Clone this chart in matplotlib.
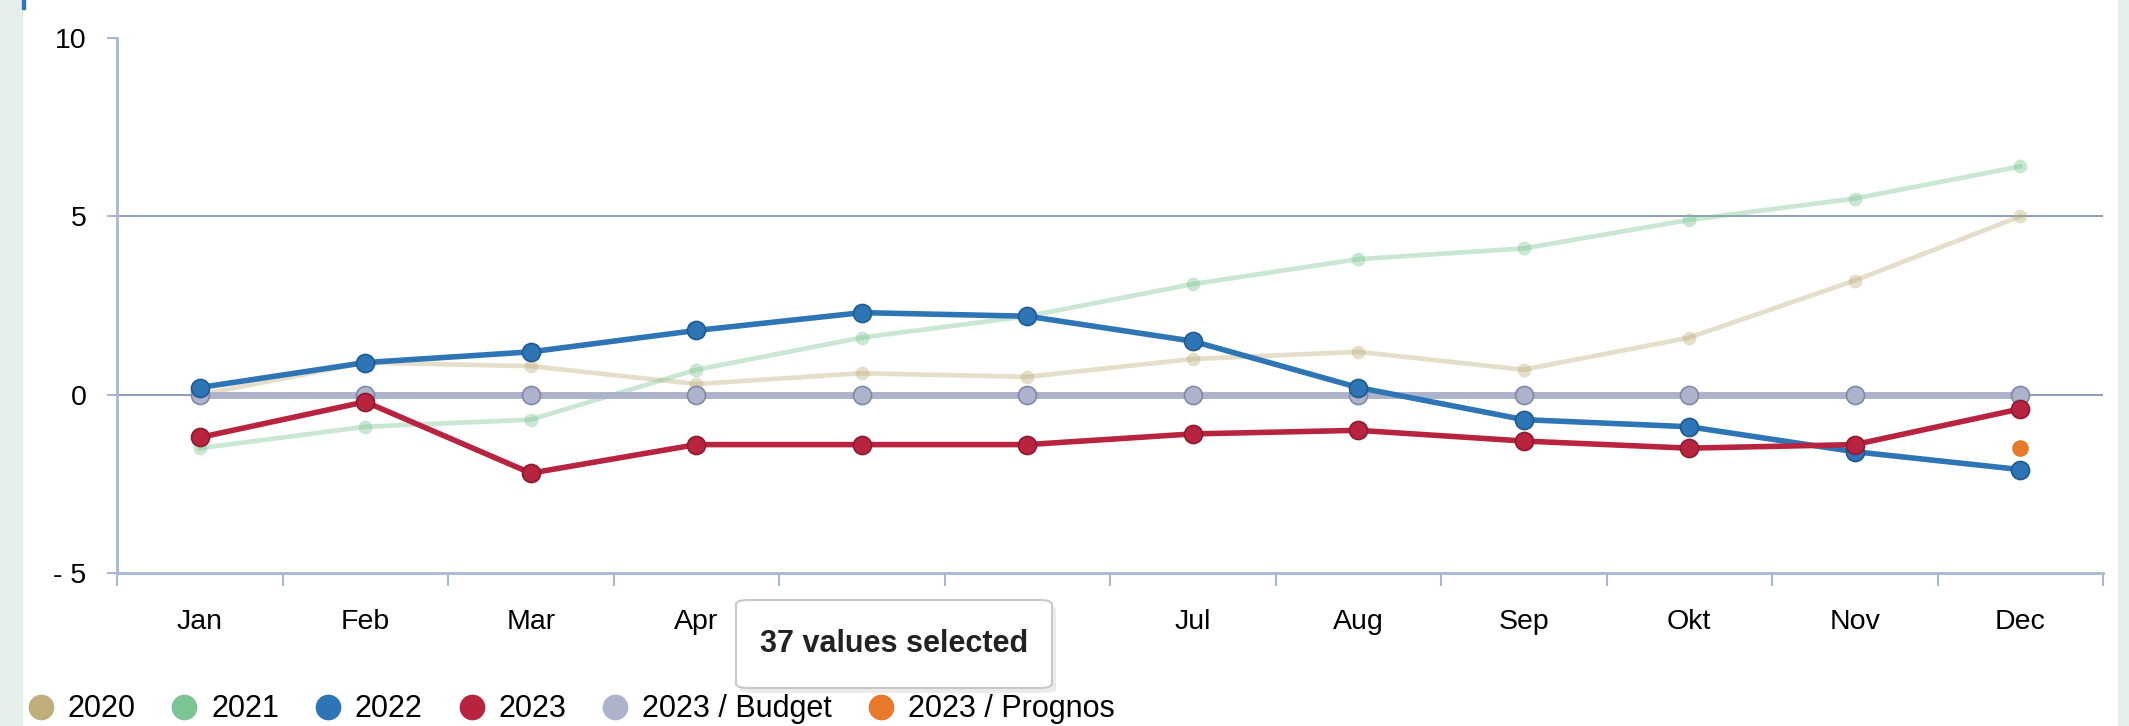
import matplotlib.pyplot as plt
from matplotlib.lines import Line2D
from matplotlib.patches import FancyBboxPatch, Rectangle

plt.rcParams['font.family'] = ['Liberation Sans', 'DejaVu Sans']

months = ['Jan', 'Feb', 'Mar', 'Apr', 'May', 'Jun',
          'Jul', 'Aug', 'Sep', 'Okt', 'Nov', 'Dec']
v2020 = [0.0, 0.9, 0.8, 0.3, 0.6, 0.5, 1.0, 1.2, 0.7, 1.6, 3.2, 5.0]
v2021 = [-1.5, -0.9, -0.7, 0.7, 1.6, 2.2, 3.1, 3.8, 4.1, 4.9, 5.5, 6.4]
v2022 = [0.2, 0.9, 1.2, 1.8, 2.3, 2.2, 1.5, 0.2, -0.7, -0.9, -1.6, -2.1]
v2023 = [-1.2, -0.2, -2.2, -1.4, -1.4, -1.4, -1.1, -1.0, -1.3, -1.5, -1.4, -0.4]
budget = [0.0] * 12
prognos_month = ['Dec']
prognos = [-1.5]
yticks = [-5, 0, 5, 10]
ytick_labels = ['- 5', '0', '5', '10']
hidden_months = ['May', 'Jun']  # covered by the tooltip in the screenshot

colors = {'2020': '#bfae7b', '2021': '#7cc493', '2022': '#2e75b6',
          '2023': '#b8243f', 'budget': '#aeb3cc', 'prognos': '#e8792b'}

fig = plt.figure(figsize=(21.29, 7.26), dpi=100)
# grey side strips of the page
fig.add_artist(Rectangle((0, 0), 22 / 2129, 1, transform=fig.transFigure,
                         color='#e6eeec', zorder=0))
fig.add_artist(Rectangle((2118 / 2129, 0), 11 / 2129, 1, transform=fig.transFigure,
                         color='#e6eeec', zorder=0))
fig.add_artist(Rectangle((22 / 2129, 0.987), 3 / 2129, 0.013, transform=fig.transFigure,
                         color='#2e75b6', zorder=1))

ax = fig.add_axes([117 / 2129, 1 - 573 / 726, (2103 - 117) / 2129, (573 - 38) / 726])
ax.patch.set_alpha(0)

x = [i + 0.5 for i in range(len(months))]

# gridlines
for g in [0, 5]:
    ax.axhline(g, color='#8594b0', lw=1.3, zorder=1)

ax.plot(x, v2020, color=colors['2020'], alpha=0.4, lw=3.4, marker='o', ms=10,
        mec='none', zorder=2)
ax.plot(x, v2021, color=colors['2021'], alpha=0.4, lw=3.4, marker='o', ms=10,
        mec='none', zorder=2)
ax.plot(x, budget, color=colors['budget'], lw=5, marker='o', ms=13,
        mec='#8088a8', mew=1.2, zorder=3)
ax.plot(x, v2022, color=colors['2022'], lw=4, marker='o', ms=13,
        mec='#1f5a90', mew=1.2, zorder=4)
ax.plot(x, v2023, color=colors['2023'], lw=4, marker='o', ms=13,
        mec='#8e1a30', mew=1.2, zorder=4)
px = [x[months.index(m)] for m in prognos_month]
ax.plot(px, prognos, color=colors['prognos'], lw=0, marker='o', ms=12,
        mec='none', zorder=5)

ax.set_xlim(0, 12)
ax.set_ylim(-5, 10)
ax.set_yticks(yticks)
ax.set_yticklabels(ytick_labels)
ax.set_xticks(range(13))
ax.set_xticklabels([])
ax.set_xticks(x, minor=True)
ax.set_xticklabels(months, minor=True)
for lbl in ax.get_xticklabels(minor=True):
    if lbl.get_text() in hidden_months:
        lbl.set_visible(False)
ax.tick_params(axis='x', which='minor', length=0, pad=26, labelsize=20.5)
ax.tick_params(axis='x', which='major', length=9, width=1.5, color='#a9b7d0')
ax.tick_params(axis='y', length=7, width=1.5, color='#a9b7d0', labelsize=20.5, pad=15)

for s in ['top', 'right']:
    ax.spines[s].set_visible(False)
for s in ['left', 'bottom']:
    ax.spines[s].set_color('#a9b7d0')
    ax.spines[s].set_linewidth(2)

# tooltip box with soft shadow
shadow = FancyBboxPatch((740 / 2129, 1 - 693 / 726), 316 / 2129, 88 / 726,
                        boxstyle='round,pad=0,rounding_size=0.006',
                        transform=fig.transFigure, facecolor='#000000',
                        edgecolor='none', alpha=0.08, zorder=9)
fig.add_artist(shadow)
box = FancyBboxPatch((736 / 2129, 1 - 688 / 726), 316 / 2129, 88 / 726,
                     boxstyle='round,pad=0,rounding_size=0.006',
                     transform=fig.transFigure, facecolor='white',
                     edgecolor='#c8c8c8', lw=1.5, zorder=10)
fig.add_artist(box)
fig.text(894 / 2129, 1 - 644 / 726, '37 values selected', ha='center', va='center',
         fontsize=22, fontweight='bold', color='#222222', zorder=11)

# legend
labels = ['2020', '2021', '2022', '2023', '2023 / Budget', '2023 / Prognos']
keys = ['2020', '2021', '2022', '2023', 'budget', 'prognos']
handles = [Line2D([], [], lw=0, marker='o', ms=17.5, color=colors[k]) for k in keys]
fig.legend(handles, labels, loc='lower left', bbox_to_anchor=(0.0033, -0.027),
           ncol=6, frameon=False, fontsize=22, handlelength=0.8,
           handletextpad=0.48, columnspacing=1.2, borderpad=0.2)

fig.savefig('out.png', dpi=100)
